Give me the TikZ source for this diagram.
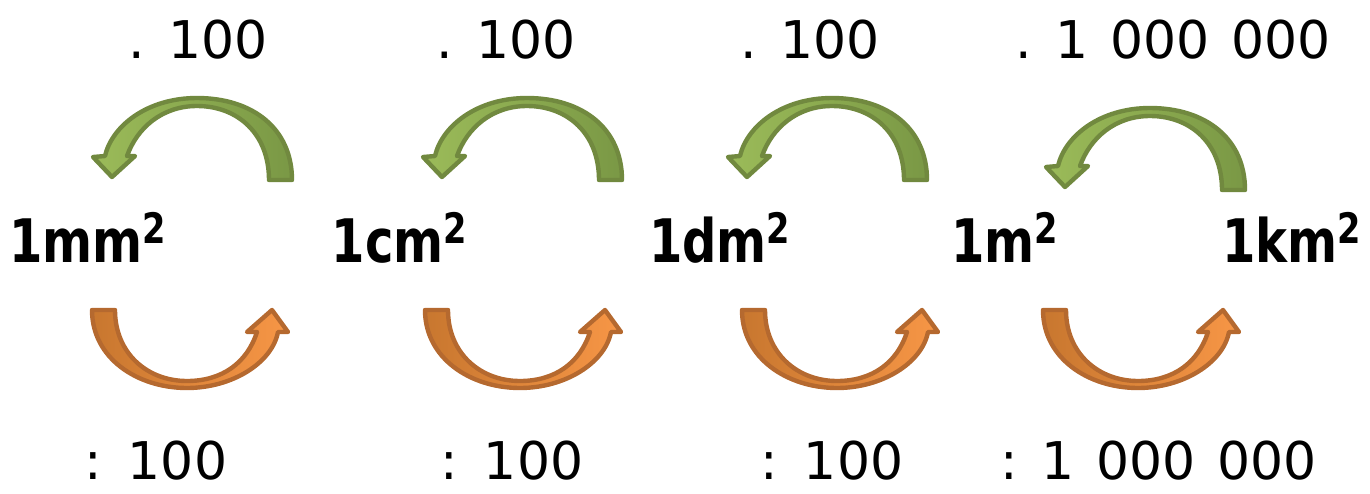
\documentclass[tikz,border=0pt]{standalone}
\usepackage{fontspec}
\setmainfont{DejaVu Sans}
\usepackage{graphicx}
\definecolor{glight}{HTML}{9BBB59}
\definecolor{gmid}{HTML}{7A9845}
\definecolor{gdark}{HTML}{71893F}
\definecolor{olight}{HTML}{F79646}
\definecolor{omid}{HTML}{C8772F}
\definecolor{odark}{HTML}{B5692F}
\tikzset{
  numlbl/.style={font=\fontsize{26}{30}\selectfont, anchor=base west, inner sep=0pt, text depth=0pt},
  unitlbl/.style={font=\bfseries\fontsize{30}{34}\selectfont, anchor=base, inner sep=0pt},
  garrow/.style={draw=gdark, line width=2.2pt, line join=round, left color=glight, right color=gmid},
  oarrow/.style={draw=odark, line width=2.2pt, line join=round, left color=omid, right color=olight},
  greenarrow/.pic={
    \path[garrow] (95,82) .. controls (95,30) and (55,0) .. (0,0)
      .. controls (-50,0) and (-85,28) .. (-92,58) -- (-104,59) -- (-85,79) -- (-62,58) -- (-70,58)
      .. controls (-60,30) and (-35,8) .. (0,8)
      .. controls (40,8) and (72,35) .. (72,82) -- cycle;
  },
  orangearrow/.pic={
    \path[oarrow] (-95,-78) .. controls (-95,-30) and (-50,0) .. (0,0)
      .. controls (45,0) and (85,-25) .. (91,-56) -- (101,-56) -- (85,-78) -- (60,-56) -- (70,-56)
      .. controls (60,-25) and (35,-7) .. (0,-7)
      .. controls (-40,-7) and (-72,-35) .. (-72,-78) -- cycle;
  }
}
\begin{document}
\begin{tikzpicture}[x=0.5pt,y=-0.5pt]
\useasboundingbox (0,0) rectangle (1370,493);
% top labels
\node[numlbl] (t1) at (128,58) {.\hspace{0.45em}100};
\node[numlbl] (t2) at (436,58) {.\hspace{0.45em}100};
\node[numlbl] (t3) at (740,58) {.\hspace{0.45em}100};
\node[numlbl] (t4) at (1015,58) {.\hspace{0.45em}1\hspace{0.42em}000\hspace{0.42em}000};
% green arrows
\pic at (197,98) {greenarrow};
\pic at (527,98) {greenarrow};
\pic at (832,98) {greenarrow};
\pic at (1150,108) {greenarrow};
% units
\node[unitlbl] (mm) at (88,262) {\scalebox{0.8}[1]{1mm\textsuperscript{2}}};
\node[unitlbl] (cm) at (400,262) {\scalebox{0.8}[1]{1cm\textsuperscript{2}}};
\node[unitlbl] (dm) at (720,262) {\scalebox{0.8}[1]{1dm\textsuperscript{2}}};
\node[unitlbl] (m) at (1005,262) {\scalebox{0.8}[1]{1m\textsuperscript{2}}};
\node[unitlbl] (km) at (1292,262) {\scalebox{0.8}[1]{1km\textsuperscript{2}}};
% orange arrows
\pic at (187,388) {orangearrow};
\pic at (520,388) {orangearrow};
\pic at (837,388) {orangearrow};
\pic at (1138,388) {orangearrow};
% bottom labels
\node[numlbl] (b1) at (84,479) {:\hspace{0.5em}100};
\node[numlbl] (b2) at (440,479) {:\hspace{0.5em}100};
\node[numlbl] (b3) at (760,479) {:\hspace{0.5em}100};
\node[numlbl] (b4) at (1000,479) {:\hspace{0.45em}1\hspace{0.42em}000\hspace{0.42em}000};
\end{tikzpicture}
\end{document}
